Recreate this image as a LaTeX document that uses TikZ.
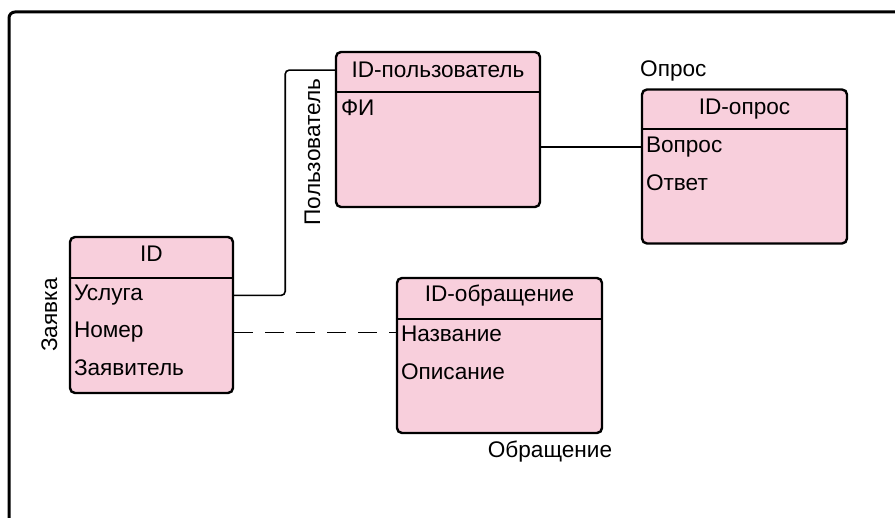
\documentclass[tikz,border=0pt]{standalone}
\usepackage{fontspec}
\setmainfont{Liberation Sans}
\usepackage{tikz}
\usetikzlibrary{positioning}
\definecolor{erpink}{RGB}{248,207,220}
\newcommand{\erfont}{\fontsize{22.6}{26}\selectfont}
\tikzstyle{entity} = [draw, line width=2.4pt, fill=erpink, rounded corners=5pt, inner sep=0pt]
\tikzstyle{sep} = [draw, line width=2.4pt]
\tikzset{
  title/.style ={anchor=base, inner sep=0pt, font=\erfont},
  field/.style ={anchor=base west, inner sep=0pt, font=\erfont},
  link/.style ={draw, line width=1.6pt, rounded corners=4pt}
}

\begin{document}
\begin{tikzpicture}[x=1pt,y=-1pt]
	\useasboundingbox (0,0) rectangle (895,518);
	\draw [line width=3pt, rounded corners=6pt] (9,12) rectangle (915,530);
	% Заявка
	\node[entity, minimum width=163pt, minimum height=156pt] (zayavka) at (151.5,315) {};
	\draw[sep] ([yshift=-42pt]zayavka.north west) -- ([yshift=-42pt]zayavka.north east);
	\node[title] (zayavkaid) at ([yshift=-26pt]zayavka.north) {ID};
	\node[field] (usluga) at ([xshift=5pt,yshift=-65pt]zayavka.north west) {Услуга};
	\node[field] (nomer) at ([xshift=5pt,yshift=-102pt]zayavka.north west) {Номер};
	\node[field] (zayavitel) at ([xshift=5pt,yshift=-140pt]zayavka.north west) {Заявитель};
	\node[title, rotate=90] (zayavkalbl) at (57,315) {Заявка};
	% Пользователь
	\node[entity, minimum width=204pt, minimum height=155pt] (polz) at (438,129.5) {};
	\draw[sep] ([yshift=-41pt]polz.north west) -- ([yshift=-41pt]polz.north east);
	\node[title] (polzid) at ([yshift=-27pt]polz.north) {ID-пользователь};
	\node[field] (fi) at ([xshift=6pt,yshift=-65pt]polz.north west) {ФИ};
	\node[title, rotate=90] (polzlbl) at (320,152) {Пользователь};
	% Опрос
	\node[entity, minimum width=205pt, minimum height=154pt] (opros) at (744.5,166.5) {};
	\draw[sep] ([yshift=-41pt]opros.north west) -- ([yshift=-41pt]opros.north east);
	\node[title] (oprosid) at ([yshift=-26pt]opros.north) {ID-опрос};
	\node[field] (vopros) at ([xshift=5pt,yshift=-64pt]opros.north west) {Вопрос};
	\node[field] (otvet) at ([xshift=5pt,yshift=-102pt]opros.north west) {Ответ};
	\node[field] (oproslbl) at (640,77) {Опрос};
	% Обращение
	\node[entity, minimum width=205pt, minimum height=155pt] (obrash) at (499.5,355.5) {};
	\draw[sep] ([yshift=-42pt]obrash.north west) -- ([yshift=-42pt]obrash.north east);
	\node[title] (obrashid) at ([yshift=-25pt]obrash.north) {ID-обращение};
	\node[field] (nazvanie) at ([xshift=5pt,yshift=-65pt]obrash.north west) {Название};
	\node[field] (opisanie) at ([xshift=5pt,yshift=-103pt]obrash.north west) {Описание};
	\node[title] (obrashlbl) at (550,458) {Обращение};
	% связи
	\draw[link] (zayavka.east |- usluga) -- ++(51,0) |- (polz.west |- polzid);
	\draw[link] (polz.east |- vopros) -- (opros.west |- vopros);
	\draw[link, rounded corners=0pt, dash pattern=on 19pt off 12pt] (zayavka.east |- nomer) -- (obrash.west |- nomer);
\end{tikzpicture}
\end{document}
